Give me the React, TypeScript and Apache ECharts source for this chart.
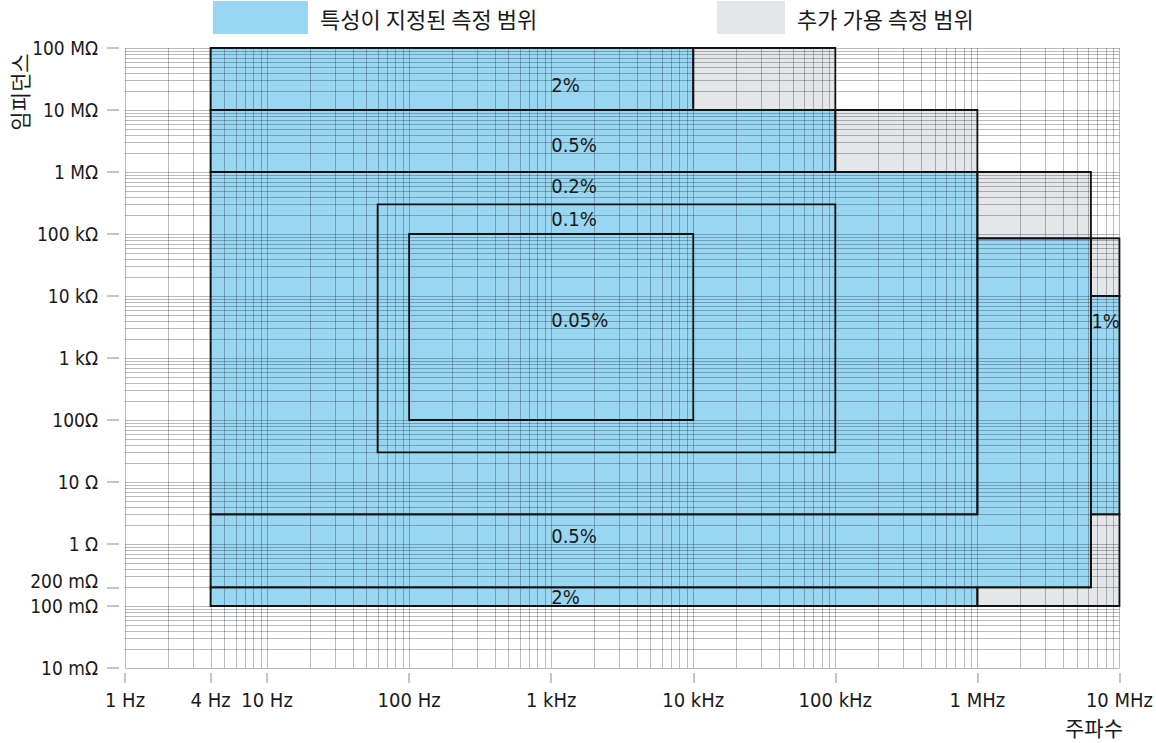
import React, { useEffect, useRef } from 'react';
import * as echarts from 'echarts';

type Pt = [number, number];

// Axis ticks: frequency (Hz) and impedance (Ω)
const freqTicks = [1, 4, 10, 100, 1e3, 1e4, 1e5, 1e6, 1e7];
const freqTickLabels = ['1 Hz', '4 Hz', '10 Hz', '100 Hz', '1 kHz', '10 kHz', '100 kHz', '1 MHz', '10 MHz'];
const impTicks = [0.01, 0.1, 0.2, 1, 10, 100, 1e3, 1e4, 1e5, 1e6, 1e7, 1e8];
const impTickLabels = ['10 mΩ', '100 mΩ', '200 mΩ', '1 Ω', '10 Ω', '100Ω', '1 kΩ', '10 kΩ', '100 kΩ', '1 MΩ', '10 MΩ', '100 MΩ'];

// rectangle from frequency span [f1, f2] and impedance span [z1, z2]
const rect = (f1: number, f2: number, z1: number, z2: number): Pt[] => [
  [f1, z1], [f2, z1], [f2, z2], [f1, z2],
];

// Specified measurement ranges (frequency Hz, impedance Ω)
const specifiedZones: Pt[][] = [
  rect(4, 1e4, 1e7, 1e8), // 2 %
  rect(4, 1e5, 1e6, 1e7), // 0.5 %
  rect(4, 1e6, 3, 1e6), // 0.2 %
  [[4, 0.2], [6.3e6, 0.2], [6.3e6, 8.5e4], [1e6, 8.5e4], [1e6, 3], [4, 3]], // 0.5 %
  rect(6.3e6, 1e7, 3, 1e4), // 1 %
  rect(4, 1e6, 0.1, 0.2), // 2 %
];

// Additional usable measurement ranges
const additionalZones: Pt[][] = [
  rect(1e4, 1e5, 1e7, 1e8),
  rect(1e5, 1e6, 1e6, 1e7),
  rect(1e6, 6.3e6, 8.5e4, 1e6),
  rect(6.3e6, 1e7, 1e4, 8.5e4),
  [[1e6, 0.1], [1e7, 0.1], [1e7, 3], [6.3e6, 3], [6.3e6, 0.2], [1e6, 0.2]],
];

// Tighter accuracy zones inside the 0.2 % range (outlined only)
const innerZones: Pt[][] = [
  rect(60, 1e5, 30, 3e5), // 0.1 %
  rect(100, 1e4, 100, 1e5), // 0.05 %
];

// Accuracy annotations
const accuracyLabels = ['2%', '0.5%', '0.2%', '0.1%', '0.05%', '0.5%', '2%', '1%'];
const accuracyLabelFreqs = [1e3, 1e3, 1e3, 1e3, 1e3, 1e3, 1e3, 8e6];
const accuracyLabelImps = [2.5e7, 2.7e6, 5.9e5, 1.75e5, 4.1e3, 1.35, 0.14, 4e3];

const legendSpecified = '특성이 지정된 측정 범위';
const legendAdditional = '추가 가용 측정 범위';
const xName = '주파수';
const yName = '임피던스';

const BLUE = '#99d6f2';
const GRAY = '#e4e6e7';
const GRID = 'rgba(20,30,40,0.3)';
const EDGE = '#111111';
const TEXT = '#1a1a1a';
const LATIN = '"Liberation Sans Narrow", "DejaVu Sans Condensed", "Roboto Condensed", sans-serif';
const KR = '"Noto Sans CJK KR", "Noto Sans", sans-serif';

// log grid: 1..9 in every decade
const gridValues = (fromExp: number, toExp: number): number[] => {
  const out: number[] = [];
  for (let e = fromExp; e < toExp; e++) {
    for (let m = 1; m <= 9; m++) out.push(Number((m * Math.pow(10, e)).toPrecision(6)));
  }
  out.push(Math.pow(10, toExp));
  return out;
};
const freqGrid = gridValues(0, 7);
const impGrid = gridValues(-2, 8);

const tickIndex = (ticks: number[], v: number) =>
  ticks.findIndex((t) => Math.abs(Math.log10(t) - Math.log10(v)) < 1e-6);

function zoneSeries(zones: Pt[][], fill: string | null, z: number, stroke: string | null) {
  return {
    type: 'custom',
    coordinateSystem: 'cartesian2d',
    silent: true,
    z,
    clip: false,
    data: zones.map((pts, i) => [pts[0][0], pts[0][1], i]),
    encode: { x: 0, y: 1 },
    renderItem: (_params: any, api: any) => {
      const pts = zones[api.value(2)];
      const points = pts.map((p) => api.coord(p));
      return {
        type: 'polygon',
        shape: { points },
        style: {
          fill: fill || 'none',
          stroke: stroke || 'none',
          lineWidth: stroke ? 1.8 : 0,
        },
      };
    },
  };
}

export default function App() {
  const ref = useRef<HTMLDivElement>(null);

  useEffect(() => {
    if (!ref.current) return;
    const chart = echarts.init(ref.current, undefined, { renderer: 'svg' });

    const option: any = {
      animation: false,
      backgroundColor: '#ffffff',
      grid: { left: 125, right: 31, top: 48, bottom: 75 },
      xAxis: {
        type: 'log',
        logBase: 10,
        min: 1,
        max: 1e7,
        offset: 5,
        axisLine: { show: false },
        splitLine: { show: false },
        minorTick: { show: false },
        axisTick: {
          show: true,
          length: 10,
          inside: false,
          customValues: freqTicks,
          lineStyle: { color: '#b0b4b8', width: 1.5 },
        },
        axisLabel: {
          customValues: freqTicks,
          formatter: (v: number) => {
            const i = tickIndex(freqTicks, v);
            return i >= 0 ? freqTickLabels[i] : '';
          },
          margin: 17,
          color: TEXT,
          fontFamily: LATIN,
          fontSize: 20,
        },
      },
      yAxis: {
        type: 'log',
        logBase: 10,
        min: 0.01,
        max: 1e8,
        offset: 6,
        axisLine: { show: false },
        splitLine: { show: false },
        minorTick: { show: false },
        axisTick: {
          show: true,
          length: 12,
          inside: false,
          customValues: impTicks,
          lineStyle: { color: '#b0b4b8', width: 1.5 },
        },
        axisLabel: {
          customValues: impTicks,
          // the 200 mΩ label sits close to 100 mΩ, so it is lifted slightly
          formatter: (v: number) => {
            const i = tickIndex(impTicks, v);
            if (i < 0) return '';
            return impTicks[i] === 0.2 ? `{lift|${impTickLabels[i]}}` : impTickLabels[i];
          },
          margin: 21,
          color: TEXT,
          fontFamily: LATIN,
          fontSize: 19,
          rich: {
            lift: {
              color: TEXT,
              fontFamily: LATIN,
              fontSize: 19,
              padding: [0, 0, 12, 0],
            },
          },
        },
      },
      graphic: [
        { type: 'rect', shape: { x: 213, y: 1, width: 95, height: 33 }, style: { fill: BLUE } },
        {
          type: 'text',
          x: 320,
          y: 18,
          style: { text: legendSpecified, fill: TEXT, fontFamily: KR, fontSize: 22, verticalAlign: 'middle' },
        },
        { type: 'rect', shape: { x: 717, y: 1, width: 68, height: 33 }, style: { fill: GRAY } },
        {
          type: 'text',
          x: 797,
          y: 18,
          style: { text: legendAdditional, fill: TEXT, fontFamily: KR, fontSize: 22, verticalAlign: 'middle' },
        },
        {
          type: 'text',
          x: 1123,
          y: 727,
          style: { text: xName, fill: TEXT, fontFamily: KR, fontSize: 21, align: 'right', verticalAlign: 'middle' },
        },
        {
          type: 'text',
          x: 19,
          y: 92,
          rotation: Math.PI / 2,
          style: { text: yName, fill: TEXT, fontFamily: KR, fontSize: 21, align: 'center', verticalAlign: 'middle' },
        },
      ],
      series: [
        zoneSeries(specifiedZones, BLUE, 1, null),
        zoneSeries(additionalZones, GRAY, 1, null),
        {
          type: 'custom',
          coordinateSystem: 'cartesian2d',
          silent: true,
          z: 2,
          data: freqGrid.map((v) => [v, 1]),
          encode: { x: 0, y: 1 },
          renderItem: (_p: any, api: any) => {
            const v = api.value(0);
            const a = api.coord([v, 0.01]);
            const b = api.coord([v, 1e8]);
            const x = Math.round(a[0]) + 0.5;
            return {
              type: 'line',
              shape: { x1: x, y1: a[1], x2: x, y2: b[1] },
              style: { stroke: GRID, lineWidth: 1 },
            };
          },
        },
        {
          type: 'custom',
          coordinateSystem: 'cartesian2d',
          silent: true,
          z: 2,
          data: impGrid.map((v) => [1, v]),
          encode: { x: 0, y: 1 },
          renderItem: (_p: any, api: any) => {
            const v = api.value(1);
            const a = api.coord([1, v]);
            const b = api.coord([1e7, v]);
            const y = Math.round(a[1]) + 0.5;
            return {
              type: 'line',
              shape: { x1: a[0], y1: y, x2: b[0], y2: y },
              style: { stroke: GRID, lineWidth: 1 },
            };
          },
        },
        zoneSeries(specifiedZones, null, 3, EDGE),
        zoneSeries(additionalZones, null, 3, EDGE),
        zoneSeries(innerZones, null, 3, EDGE),
        {
          type: 'custom',
          coordinateSystem: 'cartesian2d',
          silent: true,
          z: 4,
          data: accuracyLabels.map((_t, i) => [accuracyLabelFreqs[i], accuracyLabelImps[i], i]),
          encode: { x: 0, y: 1 },
          renderItem: (_p: any, api: any) => {
            const f = api.value(0);
            const pt = api.coord([f, api.value(1)]);
            return {
              type: 'text',
              x: pt[0],
              y: pt[1],
              style: {
                text: accuracyLabels[api.value(2)],
                fill: TEXT,
                fontFamily: LATIN,
                fontSize: 20,
                align: f > 5e6 ? 'center' : 'left',
                verticalAlign: 'middle',
              },
            };
          },
        },
      ],
    };

    chart.setOption(option);
    return () => chart.dispose();
  }, []);

  return (
    <div
      ref={ref}
      style={{ position: 'fixed', left: 0, top: 0, width: 1156, height: 743, background: '#fff' }}
    />
  );
}
